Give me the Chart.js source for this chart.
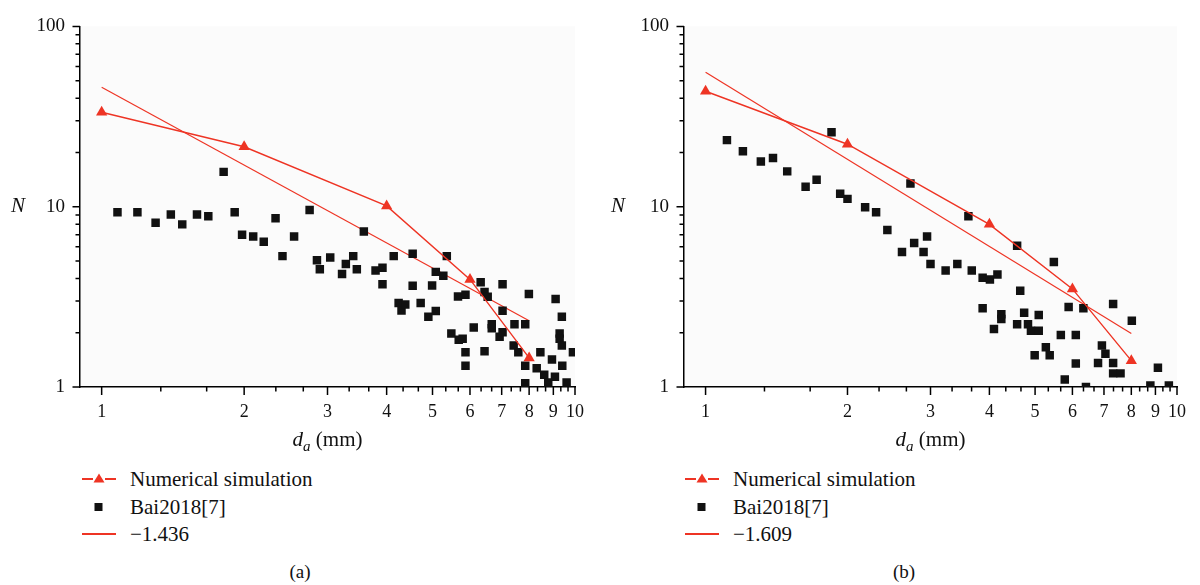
<!DOCTYPE html>
<html>
<head>
<meta charset="utf-8">
<script src="https://cdn.jsdelivr.net/npm/chart.js@4.4.0/dist/chart.umd.min.js"></script>
<style>
  body { margin: 0; background: #fff; font-family: "Liberation Serif", "DejaVu Serif", serif; }
  #wrap { position: relative; width: 1200px; height: 585px; overflow: hidden; }
  canvas { position: absolute; top: 0; }
  .row { position: absolute; height: 24px; font-size: 21px; line-height: 24px; color: #111; white-space: nowrap; }
  .row svg { position: absolute; left: 0; top: 0; }
  .row span { position: absolute; }
  .cap { position: absolute; top: 561px; font-size: 19px; color: #111; width: 60px; text-align: center; }
</style>
</head>
<body>
<div id="wrap">
  <canvas id="chartA" width="600" height="460" style="left:0"></canvas>
  <canvas id="chartB" width="600" height="460" style="left:600px"></canvas>
</div>
<script>
// series names (legend)
var seriesNames = ['Numerical simulation', 'Bai2018[7]'];
var fitNames = ['\u22121.436', '\u22121.609'];
var panelNames = ['(a)', '(b)'];

// axis ticks
var xTicks = [1, 2, 3, 4, 5, 6, 7, 8, 9, 10];
var xTickLabels = ['1', '2', '3', '4', '5', '6', '7', '8', '9', '10'];
var yTicks = [1, 10, 100];
var yTickLabels = ['1', '10', '100'];

// numerical simulation
var simX = [1, 2, 4, 6, 8];
var simA = [33.4, 21.5, 10.1, 3.95, 1.45];
var simB = [43.7, 22.2, 7.98, 3.5, 1.4];

// fitted power law, end points
var fitX = [1, 8];
var fitA = [46, 2.33];
var fitB = [55.7, 1.98];

// Bai2018[7], panel (a)
var baiAX = [1.08, 1.19, 1.30, 1.40, 1.48, 1.59, 1.68, 1.81, 1.91, 1.98, 2.09, 2.20, 2.33, 2.41, 2.55, 2.75, 2.85, 2.89, 3.04, 3.22,
             3.28, 3.40, 3.46, 3.58, 3.79, 3.92, 3.92, 4.14, 4.24, 4.30, 4.38, 4.54, 4.54, 4.72, 4.90, 4.99, 5.08, 5.08, 5.27, 5.36,
             5.48, 5.66, 5.68, 5.79, 5.87, 5.87, 5.87, 6.11, 6.32, 6.44, 6.44, 6.54, 6.67, 6.67, 6.93, 7.03, 7.03, 7.03, 7.42, 7.45,
             7.59, 7.85, 7.85, 7.85, 7.99, 8.30, 8.45, 8.61, 8.78, 8.94, 9.07, 9.10, 9.28, 9.28, 9.38, 9.38, 9.40, 9.60, 9.90];
var baiAY = [9.31, 9.31, 8.15, 9.05, 7.98, 9.05, 8.86, 15.6, 9.31, 6.98, 6.84, 6.40, 8.64, 5.32, 6.84, 9.59, 5.04, 4.50, 5.23, 4.23,
             4.81, 5.32, 4.50, 7.28, 4.43, 4.58, 3.71, 5.32, 2.92, 2.66, 2.87, 5.48, 3.64, 2.92, 2.45, 3.66, 4.35, 2.64, 4.14, 5.32,
             1.98, 3.18, 1.83, 1.85, 3.25, 1.56, 1.31, 2.14, 3.81, 3.36, 1.58, 3.17, 2.23, 2.12, 1.90, 2.01, 2.65, 3.71, 1.70, 2.23,
             1.56, 2.23, 1.31, 1.05, 3.28, 1.27, 1.56, 1.17, 1.06, 1.42, 1.14, 3.08, 1.98, 1.85, 2.45, 1.70, 1.31, 1.06, 1.56];

// Bai2018[7], panel (b)
var baiBX = [1.11, 1.20, 1.31, 1.39, 1.49, 1.63, 1.72, 1.85, 1.93, 2.00, 2.18, 2.30, 2.43, 2.61, 2.72, 2.77, 2.90, 2.95, 3.00, 3.23,
             3.42, 3.61, 3.67, 3.87, 4.01, 4.16, 3.87, 4.09, 4.24, 4.24, 4.58, 4.65, 4.58, 4.74, 4.83, 4.90, 5.09, 5.09, 4.99, 5.27,
             5.37, 5.48, 5.67, 5.78, 5.89, 6.10, 6.10, 6.33, 6.41, 6.80, 6.93, 7.05, 7.32, 7.32, 7.32, 7.59, 8.02, 8.78, 9.11, 9.61];
var baiBY = [23.4, 20.3, 17.8, 18.6, 15.7, 12.9, 14.1, 25.9, 11.8, 11.05, 9.92, 9.31, 7.43, 5.6, 13.45, 6.29, 5.6, 6.84, 4.81, 4.43,
             4.81, 8.86, 4.43, 4.04, 3.95, 4.21, 2.73, 2.1, 2.53, 2.38, 6.08, 3.42, 2.23, 2.58, 2.23, 2.05, 2.05, 2.51, 1.5, 1.66,
             1.5, 4.94, 1.94, 1.1, 2.78, 1.94, 1.35, 2.73, 1.0, 1.36, 1.7, 1.53, 2.89, 1.36, 1.19, 1.19, 2.33, 1.02, 1.28, 1.02];

var RED = '#ee3424';
var INK = '#111';
var SERIF = '"Liberation Serif", "DejaVu Serif", serif';

function pts(xs, ys) { return xs.map((x, i) => ({x: x, y: ys[i]})); }

// minor tick values: thirds on x, 2..9 per decade on y
var xMinor = [];
for (let i = 1; i < 10; i++) { xMinor.push(i + 1/3, i + 2/3); }
var yMinor = [];
[1, 10].forEach(d => { for (let k = 2; k < 10; k++) yMinor.push(k * d); });

// plot background, tick marks and axis titles
var axisMarks = {
  id: 'axisMarks',
  beforeDraw(chart) {
    const {ctx, chartArea: a} = chart;
    ctx.save();
    ctx.fillStyle = '#fbfbfb';
    ctx.fillRect(a.left, a.top, a.right - a.left, a.bottom - a.top);
    ctx.restore();
  },
  afterDraw(chart) {
    const {ctx, chartArea: a, scales} = chart;
    const x = scales.x, y = scales.y;
    ctx.save();
    ctx.strokeStyle = '#000';
    ctx.lineWidth = 1.5;
    ctx.beginPath();
    xTicks.forEach(v => { const p = x.getPixelForValue(v); ctx.moveTo(p, a.bottom); ctx.lineTo(p, a.bottom + 8); });
    xMinor.forEach(v => { const p = x.getPixelForValue(v); ctx.moveTo(p, a.bottom); ctx.lineTo(p, a.bottom + 4.5); });
    yTicks.forEach(v => { const p = y.getPixelForValue(v); ctx.moveTo(a.left, p); ctx.lineTo(a.left - 7.5, p); });
    yMinor.forEach(v => { const p = y.getPixelForValue(v); ctx.moveTo(a.left, p); ctx.lineTo(a.left - 4.5, p); });
    ctx.stroke();

    ctx.fillStyle = INK;
    ctx.textBaseline = 'middle';
    ctx.textAlign = 'left';
    ctx.font = 'italic 21px ' + SERIF;
    ctx.fillText('N', 11, y.getPixelForValue(10));

    // d_a (mm)
    const cx = (a.left + a.right) / 2, base = 446;
    ctx.textBaseline = 'alphabetic';
    ctx.font = 'italic 21px ' + SERIF; const w1 = ctx.measureText('d').width;
    ctx.font = 'italic 15px ' + SERIF; const w2 = ctx.measureText('a').width;
    ctx.font = '21px ' + SERIF; const w3 = ctx.measureText(' (mm)').width;
    let sx = cx - (w1 + w2 + w3) / 2;
    ctx.font = 'italic 21px ' + SERIF; ctx.fillText('d', sx, base); sx += w1;
    ctx.font = 'italic 15px ' + SERIF; ctx.fillText('a', sx, base + 5); sx += w2;
    ctx.font = '21px ' + SERIF; ctx.fillText(' (mm)', sx, base);
    ctx.restore();
  }
};

function makeChart(id, sim, fit, baiX, baiY, yAxisWidth, padRight) {
  return new Chart(document.getElementById(id), {
    data: {
      datasets: [
        { type: 'line', label: seriesNames[0], data: pts(simX, sim), borderColor: RED, borderWidth: 1.4,
          pointStyle: 'triangle', pointRadius: 6.5, pointBackgroundColor: RED, pointBorderWidth: 0, order: 1 },
        { type: 'scatter', label: seriesNames[1], data: pts(baiX, baiY), pointStyle: 'rect', pointRadius: 6,
          backgroundColor: INK, borderWidth: 0, order: 2 },
        { type: 'line', label: 'fit', data: pts(fitX, fit), borderColor: RED, borderWidth: 1.2,
          pointRadius: 0, order: 3 }
      ]
    },
    options: {
      responsive: false,
      animation: false,
      layout: { padding: { left: 0, right: padRight, top: 20, bottom: 0 } },
      plugins: { legend: { display: false }, tooltip: { enabled: false } },
      scales: {
        x: {
          type: 'logarithmic', min: 0.9, max: 10,
          grid: { display: false, drawTicks: false },
          border: { display: true, color: '#000', width: 1.5 },
          afterBuildTicks: s => { s.ticks = xTicks.map(v => ({value: v})); },
          afterFit: s => { s.height = 73; },
          ticks: { autoSkip: false, maxRotation: 0, minRotation: 0, padding: 14, color: INK,
                   font: { family: SERIF, size: 18 }, callback: (v, i) => xTickLabels[i] }
        },
        y: {
          type: 'logarithmic', min: 1, max: 100,
          grid: { display: false, drawTicks: false },
          border: { display: true, color: '#000', width: 1.5 },
          afterBuildTicks: s => { s.ticks = yTicks.map(v => ({value: v})); },
          afterFit: s => { s.width = yAxisWidth; },
          ticks: { autoSkip: false, padding: 15, color: INK,
                   font: { family: SERIF, size: 19 }, callback: (v, i) => yTickLabels[i] }
        }
      }
    },
    plugins: [axisMarks]
  });
}

makeChart('chartA', simA, fitA, baiAX, baiAY, 80, 25);
makeChart('chartB', simB, fitB, baiBX, baiBY, 84, 20);

// legends and captions
var wrap = document.getElementById('wrap');
var rowsY = [479, 507, 534];
function marker(kind) {
  if (kind === 0) {
    return '<svg width="34" height="24"><line x1="0" y1="12" x2="11" y2="12" stroke="' + RED + '" stroke-width="2"/>' +
           '<line x1="23" y1="12" x2="34" y2="12" stroke="' + RED + '" stroke-width="2"/>' +
           '<polygon points="17,6.5 22.5,15.5 11.5,15.5" fill="' + RED + '"/></svg>';
  }
  if (kind === 1) {
    return '<svg width="34" height="24"><rect x="12.5" y="8" width="8" height="8" fill="' + INK + '"/></svg>';
  }
  return '<svg width="34" height="24"><line x1="0" y1="12" x2="34" y2="12" stroke="' + RED + '" stroke-width="2"/></svg>';
}
[[82, 0], [685, 1]].forEach(function (p) {
  var left = p[0], k = p[1];
  var labels = [seriesNames[0], seriesNames[1], fitNames[k]];
  labels.forEach(function (t, i) {
    var d = document.createElement('div');
    d.className = 'row';
    d.style.left = left + 'px';
    d.style.top = (rowsY[i] - 12) + 'px';
    d.innerHTML = marker(i) + '<span style="left:48px">' + t + '</span>';
    wrap.appendChild(d);
  });
  var c = document.createElement('div');
  c.className = 'cap';
  c.style.left = (k === 0 ? 270 : 874) + 'px';
  c.textContent = panelNames[k];
  wrap.appendChild(c);
});
</script>
</body>
</html>
